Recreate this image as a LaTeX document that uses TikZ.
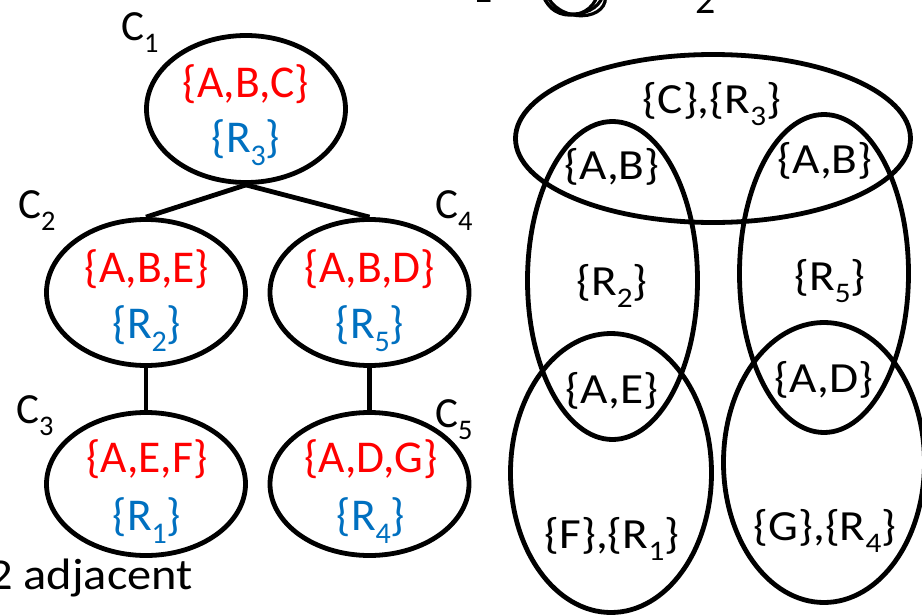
\documentclass[tikz,border=0pt]{standalone}
\usepackage{fontspec}
\usepackage{graphicx}
\setmainfont{Carlito}
\newfontfamily\widefont[FakeStretch=1.1]{Carlito}
\usetikzlibrary{shapes.geometric}
\definecolor{setred}{RGB}{255,0,0}
\definecolor{regblue}{RGB}{0,112,192}
% lowered, smaller index
\newcommand\lo[1]{\raisebox{-0.3em}{\scalebox{0.66}{#1}}}
\tikzset{
  oval/.style={draw=black, line width=4.8pt, ellipse, inner sep=0pt},
  edge/.style={draw=black, line width=4.8pt},
  treetxt/.style={anchor=base, inner sep=0pt, font=\fontsize{45.5}{52}\selectfont},
  redtxt/.style={treetxt, text=setred},
  bluetxt/.style={treetxt, text=regblue},
  cliq/.style={anchor=base west, inner sep=0pt, font=\fontsize{43}{48}\selectfont},
  venntxt/.style={anchor=base, inner sep=0pt, font=\widefont\fontsize{43}{50}\selectfont},
}
\begin{document}
\begin{tikzpicture}[x=1pt, y=-1pt]
\useasboundingbox (0,0) rectangle (922,616);
\clip (0,0) rectangle (922,616);
\fill[white] (0,0) rectangle (922,616);

% ---- clique tree ----
\node[oval, minimum width=199pt, minimum height=147pt] (c1) at (246,109) {};
\node[oval, minimum width=199pt, minimum height=146pt] (c2) at (146,292.5) {};
\node[oval, minimum width=199pt, minimum height=146pt] (c4) at (369.5,292.5) {};
\node[oval, minimum width=199pt, minimum height=143pt] (c3) at (146,484) {};
\node[oval, minimum width=199pt, minimum height=143pt] (c5) at (369.5,484) {};

\draw[edge] (c1.south) -- (c2.north);
\draw[edge] (c1.south) -- (c4.north);
\draw[edge] (c2.south) -- (c3.north);
\draw[edge] (c4.south) -- (c5.north);

\node[cliq] (l1) at (121,40) {C\lo{1}};
\node[cliq] (l2) at (18,218) {C\lo{2}};
\node[cliq] (l4) at (435,218) {C\lo{4}};
\node[cliq] (l3) at (16,423) {C\lo{3}};
\node[cliq] (l5) at (435,427) {C\lo{5}};

\node[redtxt]  (v1) at (246,97)  {\{A,B,C\}};
\node[bluetxt] (r1) at (246,152) {\{R\lo{3}\}};
\node[redtxt]  (v2) at (147,282) {\{A,B,E\}};
\node[bluetxt] (r2) at (147,338) {\{R\lo{2}\}};
\node[redtxt]  (v4) at (370,282) {\{A,B,D\}};
\node[bluetxt] (r4) at (370,338) {\{R\lo{5}\}};
\node[redtxt]  (v3) at (147,472) {\{A,E,F\}};
\node[bluetxt] (r3) at (147,530) {\{R\lo{1}\}};
\node[redtxt]  (v5) at (371,472) {\{A,D,G\}};
\node[bluetxt] (r5) at (371,530) {\{R\lo{4}\}};

\node[anchor=base east, inner sep=0pt, font=\widefont\fontsize{44}{50}\selectfont] (adj) at (193,589) {2 adjacent};

% ---- overlapping sets ----
\node[oval, minimum width=395pt, minimum height=168pt] (top) at (713,138.5) {};
\node[oval, minimum width=170pt, minimum height=318pt] (lv) at (612.5,280.5) {};
\node[oval, minimum width=169pt, minimum height=318pt] (rv) at (824,273.5) {};
\node[oval, minimum width=201pt, minimum height=279pt] (lb) at (611,473) {};
\node[oval, minimum width=201pt, minimum height=280pt] (rb) at (824,462.5) {};

\node[venntxt] (t1) at (712,113) {\{C\},\{R\lo{3}\}};
\node[venntxt] (t2) at (612,179) {\{A,B\}};
\node[venntxt] (t3) at (825,173) {\{A,B\}};
\node[venntxt] (t4) at (612,295) {\{R\lo{2}\}};
\node[venntxt] (t5) at (830,290) {\{R\lo{5}\}};
\node[venntxt] (t6) at (612,403) {\{A,E\}};
\node[venntxt] (t7) at (824,392) {\{A,D\}};
\node[venntxt] (t8) at (612,548) {\{F\},\{R\lo{1}\}};
\node[venntxt] (t9) at (825,540) {\{G\},\{R\lo{4}\}};

% ---- pieces running in from above ----
\node[anchor=base, inner sep=0pt, font=\fontsize{40}{44}\selectfont] (s1) at (483,2) {1};
\node[anchor=base, inner sep=0pt, font=\fontsize{40}{44}\selectfont] (s2) at (706,13) {2};
\draw[line width=3.2pt] (573,-8) ellipse [x radius=30pt, y radius=22pt];
\draw[line width=3.2pt, rotate around={-15:(576,-6)}] (576,-6) ellipse [x radius=30pt, y radius=21pt];
\draw[line width=3.2pt, rotate around={10:(571,-9)}] (571,-9) ellipse [x radius=27pt, y radius=24pt];
\end{tikzpicture}
\end{document}
